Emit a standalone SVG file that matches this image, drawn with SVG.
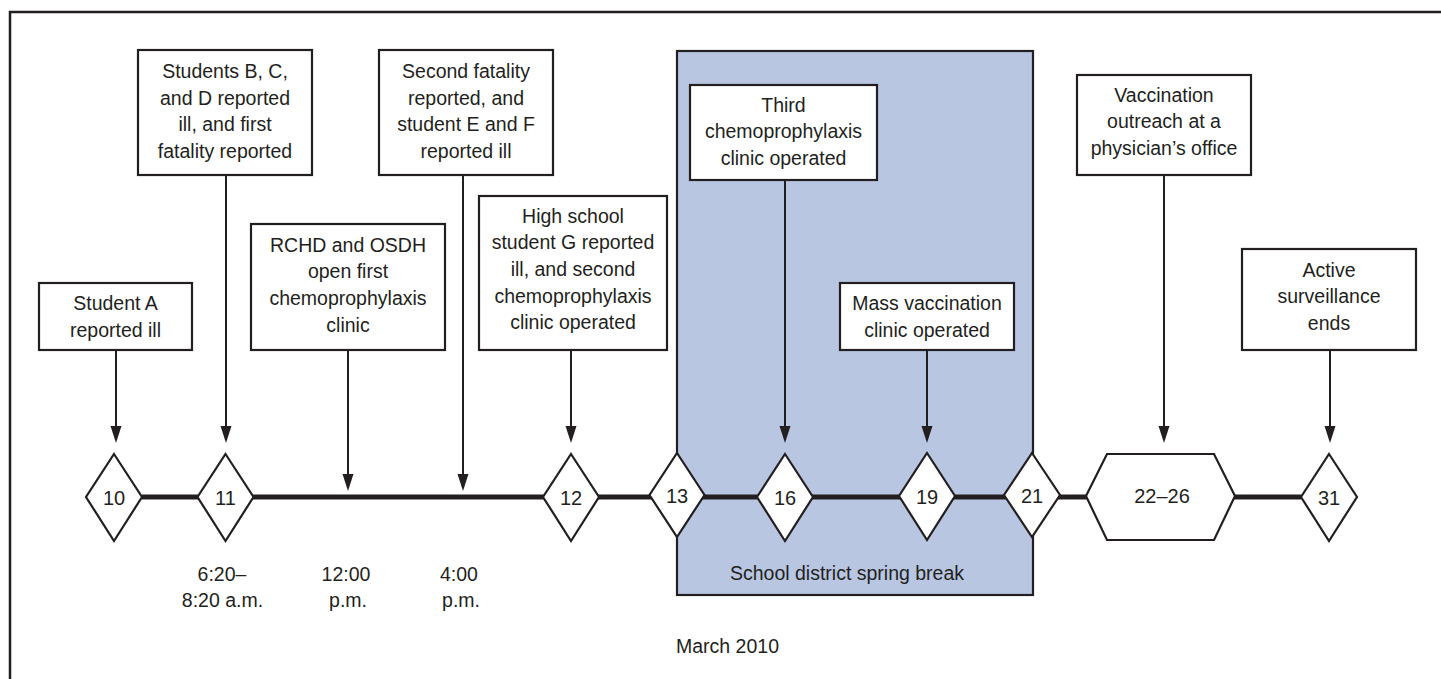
<svg xmlns="http://www.w3.org/2000/svg" width="1441" height="679" viewBox="0 0 1441 679">
<style>
text{font-family:"Liberation Sans",Arial,sans-serif;font-size:19.5px;fill:#231f20;text-anchor:middle}
.box{fill:#fff;stroke:#231f20;stroke-width:2.2}
.dia{fill:#fff;stroke:#231f20;stroke-width:2.2}
.conn{stroke:#231f20;stroke-width:2;fill:none}
.num{font-size:20px}
</style>
<defs>
<marker id="ah" viewBox="0 0 11 17" refX="5.5" refY="17" markerWidth="11" markerHeight="17" markerUnits="userSpaceOnUse" orient="auto-start-reverse">
<path d="M0,0 L11,0 L5.5,17 Z" fill="#231f20"/>
</marker>
</defs>
<rect x="10" y="12" width="1445" height="690" fill="#fff" stroke="#231f20" stroke-width="2.5"/>
<g id="spring-break">
<rect x="677" y="51" width="356" height="544" fill="#b8c6e2" stroke="#231f20" stroke-width="2.2"/>
<text x="847" y="580">School district spring break</text>
</g>
<g id="timeline">
<line x1="142" y1="497" x2="1301" y2="497" stroke="#231f20" stroke-width="5"/>
</g>
<g id="connectors">
<line class="conn" x1="116" y1="350" x2="116" y2="426"/>
<path d="M110.5,426 L121.5,426 L116,443 Z" fill="#231f20"/>
<line class="conn" x1="226" y1="175" x2="226" y2="426"/>
<path d="M220.5,426 L231.5,426 L226,443 Z" fill="#231f20"/>
<line class="conn" x1="348" y1="350" x2="348" y2="474"/>
<path d="M342.5,474 L353.5,474 L348,491 Z" fill="#231f20"/>
<line class="conn" x1="463" y1="175" x2="463" y2="474"/>
<path d="M457.5,474 L468.5,474 L463,491 Z" fill="#231f20"/>
<line class="conn" x1="571" y1="350" x2="571" y2="426"/>
<path d="M565.5,426 L576.5,426 L571,443 Z" fill="#231f20"/>
<line class="conn" x1="785" y1="180" x2="785" y2="426"/>
<path d="M779.5,426 L790.5,426 L785,443 Z" fill="#231f20"/>
<line class="conn" x1="927" y1="350" x2="927" y2="426"/>
<path d="M921.5,426 L932.5,426 L927,443 Z" fill="#231f20"/>
<line class="conn" x1="1164" y1="175" x2="1164" y2="426"/>
<path d="M1158.5,426 L1169.5,426 L1164,443 Z" fill="#231f20"/>
<line class="conn" x1="1330" y1="350" x2="1330" y2="426"/>
<path d="M1324.5,426 L1335.5,426 L1330,443 Z" fill="#231f20"/>
</g>
<g id="box-a">
<rect class="box" x="39" y="283" width="153" height="67"/>
<text x="115.5" y="310">Student A</text>
<text x="115.5" y="336.7">reported ill</text>
</g>
<g id="box-bcd">
<rect class="box" x="138" y="50" width="174" height="125"/>
<text x="225" y="78">Students B, C,</text>
<text x="225" y="104.7">and D reported</text>
<text x="225" y="131.3">ill, and first</text>
<text x="225" y="158">fatality reported</text>
</g>
<g id="box-rchd">
<rect class="box" x="251" y="224" width="194" height="126"/>
<text x="348" y="251.7">RCHD and OSDH</text>
<text x="348" y="278.3">open first</text>
<text x="348" y="305">chemoprophylaxis</text>
<text x="348" y="331.7">clinic</text>
</g>
<g id="box-second">
<rect class="box" x="379" y="50" width="174" height="125"/>
<text x="466" y="78">Second fatality</text>
<text x="466" y="104.7">reported, and</text>
<text x="466" y="131.3">student E and F</text>
<text x="466" y="158">reported ill</text>
</g>
<g id="box-high">
<rect class="box" x="479" y="196" width="188" height="154"/>
<text x="573" y="222.7">High school</text>
<text x="573" y="249.3">student G reported</text>
<text x="573" y="276">ill, and second</text>
<text x="573" y="302.7">chemoprophylaxis</text>
<text x="573" y="329.3">clinic operated</text>
</g>
<g id="box-third">
<rect class="box" x="690" y="85" width="187" height="95"/>
<text x="783.5" y="111.7">Third</text>
<text x="783.5" y="138.3">chemoprophylaxis</text>
<text x="783.5" y="165">clinic operated</text>
</g>
<g id="box-mass">
<rect class="box" x="840" y="283" width="174" height="67"/>
<text x="927" y="310">Mass vaccination</text>
<text x="927" y="336.7">clinic operated</text>
</g>
<g id="box-outreach">
<rect class="box" x="1077" y="75" width="174" height="100"/>
<text x="1164" y="101.7">Vaccination</text>
<text x="1164" y="128.3">outreach at a</text>
<text x="1164" y="155">physician’s office</text>
</g>
<g id="box-active">
<rect class="box" x="1242" y="249" width="174" height="101"/>
<text x="1329" y="276.7">Active</text>
<text x="1329" y="303.3">surveillance</text>
<text x="1329" y="330">ends</text>
</g>
<g id="d10"><polygon class="dia" points="114,454 142,497 114,541 86,497"/><text class="num" x="114" y="505">10</text></g>
<g id="d11"><polygon class="dia" points="225.5,454 253.5,497 225.5,541 197.5,497"/><text class="num" x="225.5" y="505">11</text></g>
<g id="d12"><polygon class="dia" points="571,454 599,497 571,541 543,497"/><text class="num" x="571" y="505">12</text></g>
<g id="d13"><polygon class="dia" points="677,453 704.5,495 677,537 649.5,495"/><text class="num" x="677" y="503">13</text></g>
<g id="d16"><polygon class="dia" points="785,454 813,497 785,541 757,497"/><text class="num" x="785" y="505">16</text></g>
<g id="d19"><polygon class="dia" points="927,453 955,496 927,540 899,496"/><text class="num" x="927" y="504">19</text></g>
<g id="d21"><polygon class="dia" points="1032,453 1060,495 1032,537 1004,495"/><text class="num" x="1032" y="503">21</text></g>
<g id="d22-26"><polygon class="dia" points="1107,454 1214,454 1235,496 1214,540 1107,540 1086,496"/><text class="num" x="1162" y="503">22–26</text></g>
<g id="d31"><polygon class="dia" points="1329,454 1357,497 1329,541 1301,497"/><text class="num" x="1329" y="505">31</text></g>
<g id="time-labels">
<text x="222" y="580.7">6:20–</text>
<text x="222.5" y="606.7">8:20 a.m.</text>
<text x="346" y="580.7">12:00</text>
<text x="348" y="606.7">p.m.</text>
<text x="459" y="580.7">4:00</text>
<text x="461" y="606.7">p.m.</text>
</g>
<text x="727.5" y="653">March 2010</text>
</svg>
